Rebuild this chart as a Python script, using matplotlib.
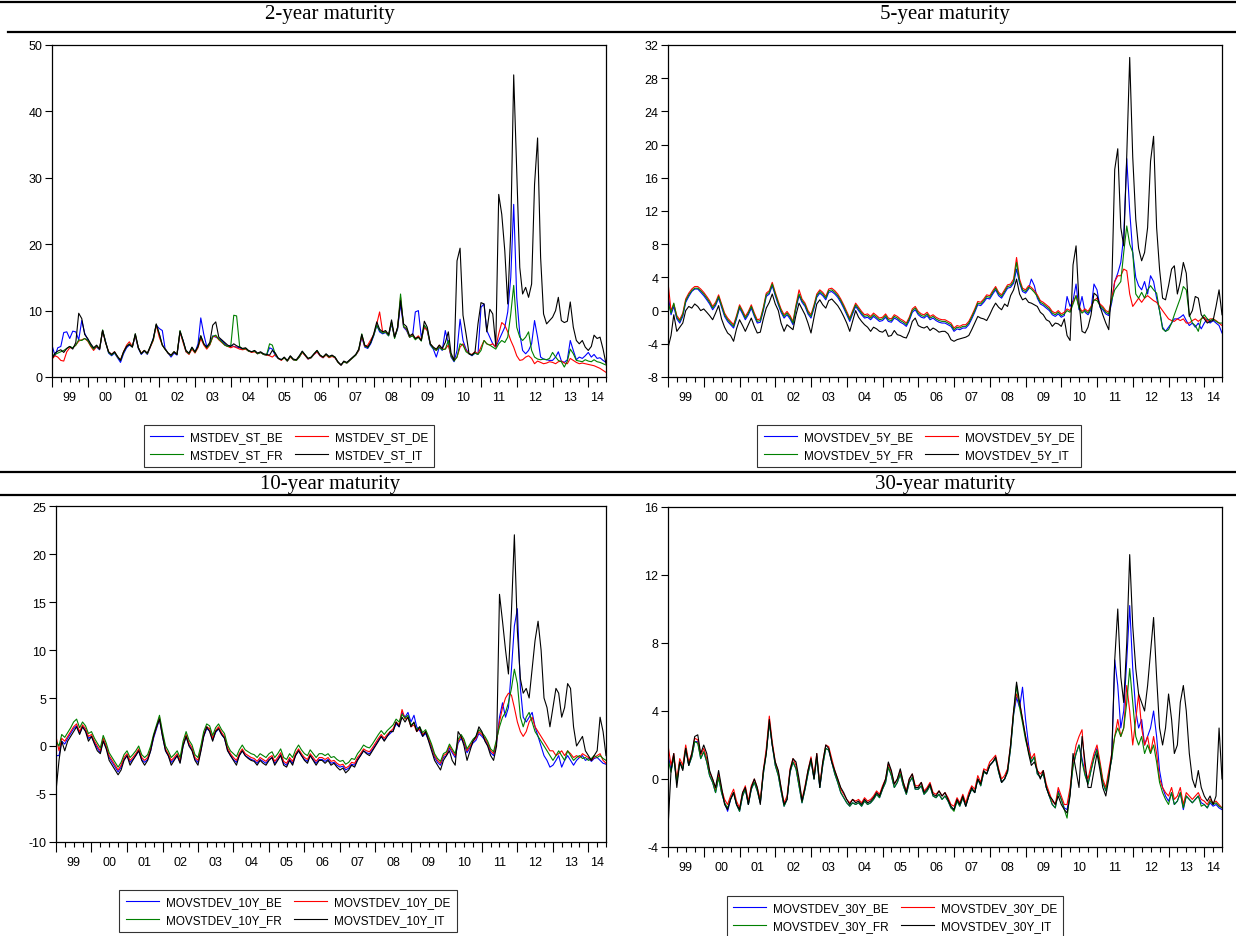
import numpy as np
import pandas as pd
import matplotlib
matplotlib.use("Agg")
import matplotlib.pyplot as plt
from matplotlib.lines import Line2D

plt.rcParams['font.family'] = ['Liberation Sans', 'DejaVu Sans']

start = '1999-01-01'

# ---- 2-year maturity (monthly, Jan 1999 - Jul 2014)
be_2y = [4.8, 3.2, 4.4, 4.6, 6.7, 6.8, 5.8, 6.9, 6.8, 5.6, 8.5, 6.6,
         5.6, 4.8, 4.3, 4.5, 4.1, 7.0, 5.4, 3.6, 3.2, 3.6, 2.9, 2.2,
         3.5, 4.4, 4.8, 4.6, 6.2, 4.3, 3.4, 3.9, 3.4, 4.5, 5.8, 7.8,
         7.3, 7.0, 4.3, 3.6, 3.0, 3.6, 3.3, 6.7, 5.5, 3.8, 3.5, 4.4,
         3.7, 5.0, 8.9, 6.4, 4.6, 5.0, 6.2, 6.0, 5.8, 5.5, 5.0, 4.6,
         4.8, 4.6, 4.5, 4.4, 4.2, 4.3, 3.9, 3.8, 3.9, 3.5, 3.7, 3.4,
         3.3, 4.4, 4.2, 3.2, 2.8, 2.6, 2.9, 2.4, 3.1, 2.6, 2.5, 3.0,
         3.8, 3.2, 2.7, 2.9, 3.4, 3.8, 3.2, 2.9, 3.4, 3.0, 3.2, 2.9,
         2.2, 1.8, 2.3, 2.1, 2.5, 2.9, 3.3, 4.0, 6.0, 4.5, 4.3, 5.0,
         6.2, 7.8, 6.8, 6.5, 6.7, 6.2, 8.0, 6.0, 7.2, 11.0, 7.5, 7.0,
         6.0, 6.2, 9.8, 10.0, 6.0, 7.6, 7.0, 4.8, 4.2, 3.0, 4.5, 4.0,
         7.0, 5.0, 3.0, 2.3, 4.0, 8.7, 5.5, 4.2, 3.5, 3.2, 3.6, 3.4,
         10.5, 11.0, 7.0, 6.0, 5.0, 4.5, 5.5, 6.5, 7.5, 9.8, 15.0, 26.0,
         12.0, 6.5, 4.0, 3.5, 4.0, 5.0, 8.5, 6.0, 3.0, 2.7, 2.6, 2.5,
         2.5, 3.0, 3.8, 2.4, 2.2, 2.6, 5.5, 4.0, 2.6, 3.0, 2.8, 3.2,
         3.7, 3.0, 3.4, 2.8, 2.9, 2.5, 2.2]
de_2y = [2.7, 3.2, 3.0, 2.5, 2.4, 3.8, 4.4, 4.4, 4.8, 5.4, 5.6, 5.8,
         5.4, 4.6, 4.0, 4.6, 4.2, 7.0, 5.2, 3.8, 3.4, 3.8, 3.0, 2.6,
         3.8, 4.8, 5.3, 4.6, 6.3, 4.4, 3.6, 4.0, 3.5, 4.5, 5.5, 7.8,
         6.0, 4.8, 4.2, 3.6, 3.2, 3.8, 3.4, 6.8, 5.2, 3.8, 3.4, 4.2,
         3.6, 4.4, 5.8, 4.8, 4.2, 4.8, 6.0, 6.2, 5.6, 5.2, 4.8, 4.6,
         4.4, 4.6, 4.4, 4.2, 4.1, 4.2, 3.9, 3.7, 3.8, 3.5, 3.7, 3.4,
         3.3, 3.2, 3.0, 3.4, 2.8, 2.5, 2.9, 2.4, 3.0, 2.6, 2.5, 3.0,
         3.7, 3.2, 2.7, 2.9, 3.4, 3.8, 3.2, 2.9, 3.3, 2.9, 3.1, 2.9,
         2.2, 1.8, 2.3, 2.1, 2.5, 2.9, 3.3, 4.0, 6.2, 4.6, 4.8, 5.6,
         6.4, 8.0, 9.8, 6.8, 6.8, 6.3, 8.2, 6.0, 7.4, 12.0, 7.6, 7.2,
         6.0, 6.3, 5.8, 6.2, 5.6, 7.5, 7.0, 5.0, 4.4, 4.0, 4.8, 4.2,
         4.2, 4.8, 3.2, 2.5, 3.0, 4.5, 5.0, 4.0, 3.5, 3.4, 3.8, 3.5,
         4.5, 5.5, 5.0, 4.8, 5.0, 4.5, 6.5, 8.2, 7.8, 6.8, 5.5, 4.5,
         3.2, 2.5, 2.6, 3.0, 3.2, 2.8, 2.0, 2.4, 2.2, 2.0, 2.1, 2.3,
         2.2, 2.0, 2.3, 2.4, 2.1, 2.0, 2.8, 2.5, 2.2, 2.0, 2.1, 2.0,
         1.9, 1.8, 1.7, 1.5, 1.3, 1.0, 0.7]
fr_2y = [3.2, 3.4, 3.6, 3.8, 4.0, 4.3, 4.6, 4.4, 4.8, 5.6, 5.5, 5.8,
         5.5, 4.7, 4.2, 4.7, 4.2, 7.1, 5.3, 3.7, 3.3, 3.7, 3.0, 2.5,
         3.7, 4.6, 5.0, 4.5, 6.5, 4.4, 3.5, 4.0, 3.5, 4.6, 5.6, 7.9,
         6.5, 4.8, 4.2, 3.6, 3.2, 3.8, 3.4, 7.0, 5.4, 3.9, 3.5, 4.4,
         3.7, 4.6, 6.2, 5.0, 4.4, 4.9, 6.1, 6.3, 5.7, 5.3, 4.8, 4.6,
         4.6, 9.3, 9.2, 4.6, 4.2, 4.3, 3.9, 3.8, 3.9, 3.5, 3.7, 3.4,
         3.3, 5.0, 4.8, 3.4, 2.8, 2.6, 2.9, 2.4, 3.1, 2.6, 2.5, 3.0,
         3.8, 3.3, 2.8, 2.9, 3.5, 4.0, 3.3, 3.0, 3.4, 3.0, 3.2, 3.0,
         2.2, 1.8, 2.3, 2.1, 2.5, 2.9, 3.3, 4.1, 6.5, 4.7, 4.4, 5.2,
         6.3, 7.8, 7.0, 6.6, 6.8, 6.2, 8.3, 5.8, 7.4, 12.5, 7.6, 7.3,
         6.0, 6.2, 5.6, 6.0, 5.4, 7.8, 7.2, 4.9, 4.3, 4.0, 4.5, 4.1,
         4.2, 5.5, 3.2, 2.4, 3.0, 5.0, 4.8, 3.8, 3.5, 3.3, 3.6, 3.4,
         4.0, 5.5, 5.0, 4.8, 4.5, 4.2, 5.0, 5.5, 5.2, 6.0, 9.5, 13.8,
         7.5, 6.0, 5.5, 6.0, 6.8, 4.0, 3.0, 2.7, 2.6, 2.7, 2.6, 2.8,
         3.7, 3.0, 2.5, 2.3, 1.5, 2.4, 4.2, 3.5, 2.5, 2.4, 2.3, 2.6,
         2.4, 2.3, 2.6, 2.3, 2.2, 2.0, 1.8]
it_2y = [2.7, 3.6, 3.9, 4.1, 3.7, 4.3, 4.6, 4.2, 5.2, 9.6, 8.8, 6.4,
         5.8, 5.0, 4.4, 4.8, 4.2, 7.0, 5.2, 3.8, 3.4, 3.8, 3.1, 2.5,
         3.8, 4.6, 4.9, 4.5, 6.5, 4.4, 3.5, 4.0, 3.6, 4.6, 5.8, 8.0,
         6.5, 4.8, 4.2, 3.6, 3.3, 3.8, 3.4, 6.9, 5.5, 4.0, 3.6, 4.5,
         3.8, 4.6, 6.2, 5.0, 4.5, 5.2, 7.8, 8.3, 6.0, 5.6, 5.2, 4.8,
         4.6, 5.0, 4.7, 4.5, 4.3, 4.4, 4.0, 3.8, 4.0, 3.6, 3.8, 3.5,
         3.4, 3.3, 4.0, 3.6, 2.8, 2.6, 3.0, 2.5, 3.2, 2.7, 2.6, 3.2,
         3.9, 3.3, 2.8, 3.0, 3.5, 4.0, 3.3, 3.0, 3.5, 3.1, 3.3, 3.0,
         2.3, 1.8, 2.4, 2.2, 2.6, 3.0, 3.4, 4.2, 6.4, 4.8, 4.5, 5.2,
         6.5, 8.3, 7.2, 6.8, 7.0, 6.4, 8.6, 6.0, 7.5, 11.5, 8.0, 7.6,
         6.2, 6.5, 5.8, 6.0, 5.5, 8.4, 7.5, 5.0, 4.5, 4.2, 4.8, 4.3,
         5.2, 6.8, 3.6, 2.5, 17.5, 19.4, 9.3, 6.5, 3.5, 3.3, 3.8, 8.0,
         11.2, 11.0, 6.8, 10.2, 9.5, 4.7, 27.5, 24.5, 19.0, 11.0, 22.0, 45.5,
         31.0, 16.5, 12.5, 13.5, 12.0, 14.0, 29.0, 36.0, 18.0, 9.5, 8.0, 8.5,
         9.0, 10.0, 12.0, 8.5, 8.2, 8.4, 11.3, 7.5, 5.5, 5.0, 5.5, 4.5,
         4.0, 4.6, 6.3, 5.8, 6.0, 4.2, 2.0]

# ---- 5-year maturity
be_5y = [2.0, -0.5, 0.5, -1.0, -1.5, -0.7, 1.0, 1.7, 2.3, 2.6, 2.6, 2.2,
         1.8, 1.3, 0.8, 0.1, 0.6, 1.5, 0.4, -0.7, -1.3, -1.7, -2.1, -1.0,
         0.3, -0.4, -1.1, -0.5, 0.3, -0.7, -1.5, -1.4, 0.0, 1.7, 2.0, 3.0,
         1.8, 0.7, -0.2, -0.9, -0.5, -1.0, -1.7, 0.3, 1.8, 1.0, 0.5, -0.4,
         -0.9, 0.3, 1.6, 2.1, 1.8, 1.3, 2.2, 2.3, 2.0, 1.6, 1.0, 0.3,
         -0.5, -1.3, -0.4, 0.5, 0.0, -0.5, -0.9, -0.8, -1.1, -0.7, -1.0, -1.3,
         -1.2, -0.8, -1.3, -1.4, -0.9, -1.1, -1.4, -1.6, -1.9, -1.2, -0.2, 0.1,
         -0.5, -0.8, -0.9, -0.6, -1.1, -0.9, -1.2, -1.4, -1.5, -1.5, -1.7, -1.9,
         -2.5, -2.2, -2.3, -2.1, -2.1, -1.7, -1.0, -0.2, 0.7, 0.6, 1.0, 1.5,
         1.4, 2.0, 2.5, 1.8, 1.5, 2.1, 2.7, 2.8, 3.3, 5.0, 3.3, 2.3,
         2.1, 2.6, 3.8, 3.0, 1.5, 0.8, 0.6, 0.3, 0.0, -0.5, -0.7, -0.4,
         -0.8, -0.6, 1.7, 0.5, 1.2, 3.2, 0.1, 1.7, -0.2, -0.5, 0.1, 3.2,
         2.5, 0.4, 0.1, -0.4, -0.6, 1.0, 3.5, 4.5, 5.8, 9.0, 18.3, 12.0,
         7.0, 4.0, 3.0, 2.5, 3.5, 2.0, 4.2, 3.5, 1.5, 0.0, -2.0, -2.5,
         -2.0, -1.5, -1.0, -1.0, -0.8, -0.5, -1.2, -1.8, -1.5, -2.0, -1.5, -2.2,
         -1.5, -1.0, -1.5, -1.2, -1.5, -1.8, -2.7]
de_5y = [3.4, 0.0, 0.8, -0.6, -1.1, -0.3, 1.4, 2.1, 2.6, 2.9, 2.9, 2.6,
         2.2, 1.7, 1.2, 0.5, 1.0, 1.9, 0.8, -0.3, -0.9, -1.3, -1.7, -0.6,
         0.7, 0.0, -0.7, -0.1, 0.7, -0.3, -1.1, -1.0, 0.4, 2.1, 2.4, 3.4,
         2.2, 1.1, 0.2, -0.5, -0.1, -0.6, -1.3, 0.7, 2.5, 1.4, 0.9, 0.0,
         -0.5, 0.7, 2.0, 2.5, 2.2, 1.7, 2.6, 2.7, 2.4, 2.0, 1.4, 0.7,
         -0.1, -0.9, 0.0, 0.9, 0.4, -0.1, -0.5, -0.4, -0.7, -0.3, -0.6, -0.9,
         -0.8, -0.4, -0.9, -1.0, -0.5, -0.7, -1.0, -1.2, -1.5, -0.8, 0.2, 0.5,
         -0.1, -0.4, -0.5, -0.2, -0.7, -0.5, -0.8, -1.0, -1.1, -1.1, -1.3, -1.5,
         -2.1, -1.8, -1.9, -1.7, -1.7, -1.3, -0.6, 0.2, 1.1, 1.0, 1.4, 1.9,
         1.8, 2.4, 2.9, 2.2, 1.9, 2.5, 3.1, 3.2, 3.8, 6.4, 3.8, 2.7,
         2.5, 3.0, 2.8, 2.4, 1.9, 1.2, 1.0, 0.7, 0.4, -0.1, -0.3, 0.0,
         -0.4, -0.2, 0.2, 0.0, 1.0, 1.8, 0.5, -0.1, 0.2, -0.1, 0.5, 1.2,
         1.5, 0.8, 0.5, 0.0, -0.2, 1.5, 3.5, 4.2, 4.2, 5.0, 4.8, 2.0,
         0.5, 1.0, 1.5, 1.0, 1.5, 1.8, 1.5, 1.2, 1.0, 0.5, 0.0, -0.5,
         -1.0, -1.2, -1.3, -1.0, -1.2, -1.0, -1.5, -1.5, -1.2, -1.0, -1.3, -1.0,
         -0.8, -1.3, -1.0, -1.0, -1.2, -1.5, -1.8]
fr_5y = [1.0, -0.3, 0.9, -0.8, -1.3, -0.5, 1.2, 1.9, 2.4, 2.7, 2.7, 2.4,
         2.0, 1.5, 1.0, 0.3, 0.8, 1.7, 0.6, -0.5, -1.1, -1.5, -1.9, -0.8,
         0.5, -0.2, -0.9, -0.3, 0.5, -0.5, -1.3, -1.2, 0.2, 1.9, 2.2, 3.2,
         2.0, 0.9, 0.0, -0.7, -0.3, -0.8, -1.5, 0.5, 2.0, 1.2, 0.7, -0.2,
         -0.7, 0.5, 1.8, 2.3, 2.0, 1.5, 2.4, 2.5, 2.2, 1.8, 1.2, 0.5,
         -0.3, -1.1, -0.2, 0.7, 0.2, -0.3, -0.7, -0.6, -0.9, -0.5, -0.8, -1.1,
         -1.0, -0.6, -1.1, -1.2, -0.7, -0.9, -1.2, -1.4, -1.7, -1.0, 0.0, 0.3,
         -0.3, -0.6, -0.7, -0.4, -0.9, -0.7, -1.0, -1.2, -1.3, -1.3, -1.5, -1.7,
         -2.3, -2.0, -2.1, -1.9, -1.9, -1.5, -0.8, 0.0, 0.9, 0.8, 1.2, 1.7,
         1.6, 2.2, 2.7, 2.0, 1.7, 2.3, 2.9, 3.0, 3.5, 5.8, 3.5, 2.5,
         2.3, 2.8, 2.6, 2.2, 1.7, 1.0, 0.8, 0.5, 0.2, -0.3, -0.5, -0.2,
         -0.6, -0.4, 0.0, -0.2, 0.8, 1.8, 0.3, -0.3, 0.0, -0.3, 0.3, 1.3,
         1.2, 0.6, 0.3, -0.2, -0.4, 1.3, 2.5, 3.0, 3.5, 7.0, 10.2, 8.0,
         7.0, 2.0, 1.5, 2.2, 1.5, 2.5, 3.0, 2.5, 2.1, 0.0, -2.2, -2.5,
         -2.3, -1.5, -0.5, 0.5, 1.5, 2.9, 2.5, -0.5, -1.5, -1.8, -2.5, -1.0,
         -0.5, -1.0, -1.2, -1.0, -1.3, -1.5, -1.5]
it_5y = [-4.5, -3.0, -0.5, -2.5, -2.0, -1.5, 0.0, 0.5, 0.3, 0.8, 0.5, 0.0,
         0.2, -0.2, -0.6, -1.1, -0.3, 0.6, -1.0, -2.0, -2.7, -3.0, -3.7, -2.2,
         -1.1, -1.8, -2.5, -1.7, -0.9, -1.9, -2.7, -2.6, -1.0, 0.3, 1.0, 2.0,
         0.8, 0.0, -1.5, -2.5, -1.7, -2.0, -2.3, -0.5, 0.9, 0.2, -0.5, -1.5,
         -2.7, -0.8, 0.8, 1.3, 0.7, 0.3, 1.2, 1.4, 1.0, 0.6, 0.0, -0.7,
         -1.5, -2.5, -1.3, 0.0, -0.8, -1.3, -1.7, -2.0, -2.5, -2.0, -2.2, -2.5,
         -2.6, -2.3, -3.1, -3.0, -2.4, -2.9, -3.0, -3.2, -3.3, -2.5, -1.3, -0.9,
         -1.8, -2.0, -2.1, -1.9, -2.4, -2.1, -2.3, -2.6, -2.5, -2.5, -2.8, -3.5,
         -3.7, -3.5, -3.4, -3.3, -3.2, -3.0, -2.3, -1.5, -0.7, -0.9, -1.0, -1.2,
         -0.5, 0.3, 0.9, 0.4, 0.1, 0.8, 0.5, 1.8, 2.5, 3.8, 2.0, 1.3,
         1.5, 1.0, 0.9, 0.7, 0.5, -0.2, -0.5, -1.1, -1.3, -1.9, -1.5, -1.6,
         -1.9, -1.0, -3.0, -3.6, 5.5, 7.8, 1.0, -2.5, -2.7, -2.0, -0.5, 2.1,
         1.8, 0.5, -0.5, -1.5, -2.3, 3.0, 17.0, 19.5, 10.0, 7.8, 18.7, 30.5,
         18.5, 11.0, 7.5, 6.0, 7.0, 10.0, 18.0, 21.0, 10.0, 5.0, 1.5, 1.3,
         3.0, 5.0, 5.4, 2.0, 3.5, 5.8, 4.5, -0.7, 0.0, 1.7, 1.5, -0.5,
         -1.0, -1.5, -1.3, -1.2, 0.5, 2.5, -0.5]

# ---- 10-year maturity
be_10y = [-1.0, -1.0, 0.5, 0.2, 0.8, 1.3, 1.8, 2.1, 1.3, 2.0, 1.6, 0.8,
          1.0, 0.3, -0.2, -0.7, 0.6, -0.2, -1.2, -1.7, -2.2, -2.7, -2.2, -1.4,
          -1.0, -1.7, -1.4, -1.0, -0.5, -1.4, -1.7, -1.4, -0.5, 0.8, 1.8, 2.8,
          1.0, -0.5, -1.0, -1.7, -1.4, -1.0, -1.7, 0.0, 1.0, 0.1, -0.4, -1.4,
          -1.7, -0.4, 1.0, 1.8, 1.6, 0.6, 1.4, 1.8, 1.2, 0.8, -0.4, -1.0,
          -1.4, -1.7, -1.0, -0.5, -1.0, -1.2, -1.4, -1.5, -1.8, -1.4, -1.6, -1.8,
          -1.4, -1.2, -1.8, -1.4, -0.9, -1.8, -2.0, -1.4, -1.8, -1.0, -0.5, -1.0,
          -1.4, -1.6, -1.0, -1.4, -1.8, -1.4, -1.4, -1.6, -1.4, -1.8, -1.7, -2.0,
          -2.2, -2.1, -2.5, -2.3, -1.9, -2.0, -1.4, -1.0, -0.5, -0.7, -0.8, -0.4,
          0.1, 0.6, 1.0, 0.6, 1.0, 1.3, 1.6, 2.3, 2.0, 3.5, 3.0, 3.5,
          2.5, 3.2, 2.0, 1.6, 1.0, 1.3, 0.6, -0.2, -1.2, -1.7, -2.0, -1.2,
          -1.0, -0.2, -0.7, -1.2, 0.3, 0.8, 0.3, -0.7, -0.2, 0.3, 0.6, 1.3,
          1.0, 0.6, 0.1, -0.7, -1.0, 0.3, 3.0, 4.5, 3.0, 4.0, 8.0, 12.5,
          14.3, 6.0, 3.0, 2.5, 3.0, 3.5, 2.0, 1.0, 0.0, -1.0, -1.5, -2.2,
          -2.0, -1.5, -1.0, -2.2, -1.5, -1.0, -1.5, -2.0, -1.5, -1.2, -1.0, -1.5,
          -1.3, -1.6, -1.3, -1.2, -1.5, -1.8, -1.9]
de_10y = [1.0, -0.5, 0.8, 0.5, 1.0, 1.5, 2.0, 2.3, 1.5, 2.2, 1.8, 1.0,
          1.2, 0.5, 0.0, -0.5, 0.8, 0.0, -1.0, -1.5, -2.0, -2.5, -2.0, -1.2,
          -0.8, -1.5, -1.2, -0.8, -0.3, -1.2, -1.5, -1.2, -0.3, 1.0, 2.0, 3.0,
          1.2, -0.3, -0.8, -1.5, -1.2, -0.8, -1.5, 0.2, 1.2, 0.3, -0.2, -1.2,
          -1.5, -0.2, 1.2, 2.0, 1.8, 0.8, 1.6, 2.0, 1.4, 1.0, -0.2, -0.8,
          -1.2, -1.5, -0.8, -0.3, -0.8, -1.0, -1.2, -1.3, -1.6, -1.2, -1.4, -1.6,
          -1.2, -1.0, -1.6, -1.2, -0.7, -1.6, -1.8, -1.2, -1.6, -0.8, -0.3, -0.8,
          -1.2, -1.4, -0.8, -1.2, -1.6, -1.2, -1.2, -1.4, -1.2, -1.6, -1.5, -1.8,
          -2.0, -1.9, -2.3, -2.1, -1.7, -1.8, -1.2, -0.8, -0.3, -0.5, -0.6, -0.2,
          0.3, 0.8, 1.2, 0.8, 1.2, 1.5, 1.8, 2.5, 2.2, 3.8, 2.8, 3.0,
          2.0, 2.2, 1.5, 1.8, 1.2, 1.5, 0.8, 0.0, -1.0, -1.5, -1.8, -1.0,
          -0.8, 0.0, -0.5, -1.0, 0.5, 1.0, 0.5, -0.5, 0.0, 0.5, 0.8, 1.5,
          1.2, 0.8, 0.3, -0.5, -0.8, 0.5, 2.5, 4.0, 5.0, 5.5, 5.3, 4.0,
          2.5, 1.5, 1.0, 1.5, 2.5, 3.0, 2.0, 1.5, 1.0, 0.5, 0.0, -0.5,
          -0.5, -1.0, -0.8, -0.5, -1.0, -0.5, -0.8, -1.2, -1.0, -1.2, -0.8, -1.0,
          -1.2, -1.5, -1.2, -1.0, -0.8, -1.5, -1.8]
fr_10y = [0.5, 0.0, 1.2, 0.9, 1.4, 1.9, 2.5, 2.8, 1.9, 2.5, 2.1, 1.3,
          1.5, 0.8, 0.3, -0.2, 1.1, 0.3, -0.7, -1.2, -1.7, -2.2, -1.7, -0.9,
          -0.5, -1.2, -0.9, -0.5, 0.0, -0.9, -1.2, -0.9, 0.0, 1.2, 2.2, 3.2,
          1.5, 0.0, -0.5, -1.2, -0.9, -0.5, -1.2, 0.5, 1.5, 0.6, 0.1, -0.9,
          -1.2, 0.1, 1.5, 2.3, 2.1, 1.1, 1.9, 2.3, 1.7, 1.3, 0.1, -0.5,
          -0.8, -1.1, -0.4, 0.1, -0.4, -0.6, -0.8, -0.9, -1.2, -0.8, -1.0, -1.2,
          -0.8, -0.6, -1.2, -0.8, -0.3, -1.2, -1.4, -0.8, -1.2, -0.4, 0.1, -0.4,
          -0.8, -1.0, -0.4, -0.8, -1.2, -0.8, -0.8, -1.0, -0.8, -1.2, -1.1, -1.4,
          -1.6, -1.5, -1.9, -1.7, -1.3, -1.4, -0.8, -0.4, 0.1, -0.1, -0.2, 0.2,
          0.7, 1.2, 1.6, 1.2, 1.6, 1.9, 2.2, 2.8, 2.5, 3.3, 2.9, 3.2,
          2.2, 2.4, 1.7, 2.0, 1.4, 1.7, 1.0, 0.2, -0.8, -1.3, -1.6, -0.8,
          -0.6, 0.2, -0.3, -0.8, 0.7, 1.2, 0.7, -0.3, 0.2, 0.7, 1.0, 1.7,
          1.4, 1.0, 0.5, -0.3, -0.6, 0.7, 2.0, 3.0, 3.5, 4.5, 6.0, 8.0,
          6.5, 3.0, 2.0, 3.0, 3.5, 2.5, 1.5, 1.0, 0.5, 0.0, -0.5, -1.0,
          -1.5, -1.0, -0.5, -1.0, -1.5, -0.5, -1.0, -1.5, -1.2, -1.0, -1.3, -1.2,
          -1.5, -1.3, -1.0, -1.2, -1.0, -1.3, -1.5]
it_10y = [-4.7, -1.5, 0.5, -0.5, 0.5, 1.0, 1.5, 2.0, 1.2, 2.0, 1.5, 0.5,
          1.0, 0.2, -0.5, -0.8, 0.5, -0.3, -1.5, -2.0, -2.5, -3.0, -2.5, -1.5,
          -1.0, -2.0, -1.5, -1.0, -0.5, -1.5, -2.0, -1.5, -0.5, 1.0, 2.0, 2.8,
          1.0, -0.5, -1.0, -2.0, -1.5, -1.0, -1.8, 0.0, 1.0, 0.0, -0.5, -1.5,
          -2.0, -0.5, 1.0, 2.0, 1.5, 0.5, 1.5, 1.8, 1.2, 0.8, -0.5, -1.0,
          -1.5, -2.0, -1.0, -0.5, -1.0, -1.3, -1.5, -1.6, -2.0, -1.5, -1.8, -2.0,
          -1.5, -1.2, -2.0, -1.5, -1.0, -2.0, -2.2, -1.5, -2.0, -1.0, -0.5, -1.0,
          -1.5, -1.8, -1.0, -1.5, -2.0, -1.5, -1.5, -1.8, -1.5, -2.0, -1.8, -2.2,
          -2.5, -2.3, -2.8, -2.5, -2.0, -2.2, -1.5, -1.0, -0.5, -0.8, -1.0, -0.5,
          0.0, 0.5, 1.0, 0.5, 1.0, 1.5, 1.5, 2.5, 2.0, 3.0, 2.5, 3.0,
          2.0, 2.5, 1.5, 2.0, 1.0, 1.5, 0.5, -0.5, -1.5, -2.0, -2.5, -1.5,
          -1.0, -0.5, -1.5, -2.0, 1.5, 1.0, 0.0, -1.5, -0.5, 0.5, 1.0, 2.0,
          1.5, 0.5, 0.0, -1.0, -1.5, 0.0, 15.8, 13.0, 10.0, 7.5, 14.0, 22.0,
          12.0, 7.0, 5.5, 6.0, 5.0, 8.0, 11.0, 13.0, 10.0, 5.0, 4.0, 2.0,
          4.0, 6.0, 5.5, 3.0, 4.0, 6.5, 6.0, 2.0, 0.0, 0.5, 1.0, -0.5,
          -1.0, -1.5, -1.0, -0.5, 3.0, 1.5, -1.0]

# ---- 30-year maturity
be_30y = [1.5, 0.5, 1.3, -0.2, 1.0, 0.6, 1.8, 0.8, 1.3, 2.2, 2.2, 1.2,
          1.6, 1.0, 0.2, -0.2, -0.8, 0.1, -0.8, -1.4, -1.9, -1.2, -0.8, -1.5,
          -1.9, -1.0, -0.6, -1.5, -0.6, -0.2, -0.7, -1.4, 0.3, 1.6, 3.3, 2.0,
          0.8, 0.2, -0.7, -1.6, -1.2, 0.4, 1.0, 0.6, -0.4, -1.4, -0.6, 0.3,
          1.1, 0.0, 1.3, -0.5, 0.8, 1.8, 1.7, 1.0, 0.3, -0.2, -0.8, -1.1,
          -1.4, -1.6, -1.4, -1.5, -1.4, -1.6, -1.3, -1.5, -1.4, -1.2, -0.9, -1.1,
          -0.6, -0.2, 0.7, 0.2, -0.5, -0.2, 0.3, -0.4, -0.9, -0.2, 0.1, -0.6,
          -0.6, -0.4, -0.9, -0.7, -0.4, -1.0, -1.1, -0.9, -1.2, -1.0, -1.3, -1.7,
          -1.8, -1.3, -1.6, -1.1, -1.6, -1.0, -0.6, -0.8, 0.0, -0.4, 0.4, 0.3,
          0.8, 1.0, 1.2, 0.4, -0.2, 0.0, 0.4, 1.8, 3.8, 4.8, 4.2, 5.4,
          3.5, 2.0, 1.0, 1.3, 0.3, 0.1, 0.3, -0.5, -1.0, -1.5, -1.7, -0.7,
          -1.2, -1.7, -1.8, -0.8, 0.8, 1.5, 2.0, 1.2, 0.3, -0.3, 0.5, 1.3,
          1.8, 0.8, -0.2, -0.7, 0.3, 1.2, 7.0, 5.5, 3.0, 4.0, 7.0, 10.2,
          6.5, 4.0, 3.0, 3.5, 2.0, 2.5, 3.0, 4.0, 2.5, 0.5, -0.5, -1.0,
          -1.3, -0.8, -1.5, -1.3, -0.8, -1.8, -1.0, -1.2, -1.4, -1.2, -1.0, -1.4,
          -1.5, -1.7, -1.4, -1.6, -1.5, -1.7, -1.8]
de_30y = [2.0, 0.8, 1.5, 0.0, 1.2, 0.8, 2.0, 1.0, 1.5, 2.4, 2.3, 1.4,
          1.8, 1.2, 0.4, 0.0, -0.6, 0.3, -0.6, -1.2, -1.5, -1.0, -0.6, -1.3,
          -1.7, -0.8, -0.4, -1.3, -0.4, 0.0, -0.5, -1.2, 0.5, 1.8, 3.7, 2.2,
          1.0, 0.4, -0.5, -1.4, -1.0, 0.6, 1.2, 0.8, -0.2, -1.2, -0.4, 0.5,
          1.3, 0.2, 1.5, -0.3, 1.0, 2.0, 1.9, 1.2, 0.5, 0.0, -0.6, -0.9,
          -1.2, -1.4, -1.2, -1.3, -1.2, -1.4, -1.1, -1.3, -1.2, -1.0, -0.7, -0.9,
          -0.4, 0.0, 0.9, 0.4, -0.3, 0.0, 0.5, -0.2, -0.7, 0.0, 0.3, -0.4,
          -0.4, -0.2, -0.7, -0.5, -0.2, -0.8, -0.9, -0.7, -1.0, -0.8, -1.1, -1.5,
          -1.6, -1.1, -1.4, -0.9, -1.4, -0.8, -0.4, -0.6, 0.2, -0.2, 0.6, 0.5,
          1.0, 1.2, 1.4, 0.6, 0.0, 0.2, 0.6, 2.0, 4.0, 5.0, 4.5, 3.5,
          2.5, 1.8, 1.2, 1.5, 0.5, 0.3, 0.5, -0.3, -0.8, -1.3, -1.5, -0.5,
          -1.0, -1.5, -1.5, -0.5, 1.0, 2.0, 2.5, 2.9, 0.5, 0.0, 0.8, 1.5,
          2.0, 1.0, 0.0, -0.5, 0.5, 1.5, 2.5, 3.5, 2.5, 3.0, 5.5, 4.0,
          2.0, 3.5, 5.0, 3.0, 2.0, 2.5, 1.5, 2.5, 1.5, 0.0, -0.5, -0.8,
          -1.0, -0.5, -1.2, -1.0, -0.5, -1.5, -0.8, -1.0, -1.2, -1.0, -0.8, -1.2,
          -1.3, -1.5, -1.2, -1.4, -1.3, -1.5, -1.7]
fr_30y = [1.2, 0.4, 1.3, -0.2, 1.0, 0.6, 1.8, 0.8, 1.3, 2.2, 2.1, 1.2,
          1.6, 1.0, 0.2, -0.2, -0.8, 0.1, -0.8, -1.4, -1.7, -1.2, -0.8, -1.5,
          -1.9, -1.0, -0.6, -1.5, -0.6, -0.2, -0.7, -1.4, 0.3, 1.5, 3.3, 2.0,
          0.8, 0.2, -0.7, -1.6, -1.2, 0.4, 1.0, 0.6, -0.4, -1.4, -0.6, 0.3,
          1.1, 0.0, 1.3, -0.5, 0.8, 1.8, 1.7, 1.0, 0.3, -0.2, -0.8, -1.1,
          -1.4, -1.6, -1.4, -1.5, -1.4, -1.6, -1.3, -1.5, -1.4, -1.2, -0.9, -1.1,
          -0.6, -0.2, 0.7, 0.2, -0.5, -0.2, 0.3, -0.4, -0.9, -0.2, 0.1, -0.6,
          -0.6, -0.4, -0.9, -0.7, -0.4, -1.0, -1.1, -0.9, -1.2, -1.0, -1.3, -1.7,
          -1.9, -1.3, -1.6, -1.1, -1.6, -1.0, -0.6, -0.8, 0.0, -0.4, 0.4, 0.3,
          0.8, 1.0, 1.2, 0.4, -0.2, 0.0, 0.4, 1.8, 3.8, 5.5, 4.2, 3.3,
          2.3, 1.6, 1.0, 1.3, 0.3, 0.1, 0.3, -0.5, -1.0, -1.5, -1.7, -0.8,
          -1.2, -1.8, -2.3, -0.8, 0.7, 1.5, 2.0, 1.0, 0.2, -0.3, 0.5, 1.2,
          1.7, 0.8, -0.2, -0.7, 0.2, 1.2, 2.5, 3.0, 2.5, 3.0, 4.5, 6.5,
          4.5, 2.5, 2.0, 2.5, 1.5, 2.0, 1.5, 2.0, 1.0, -0.2, -0.8, -1.2,
          -1.5, -0.8, -1.5, -1.3, -0.8, -1.7, -1.0, -1.2, -1.4, -1.2, -1.0, -1.6,
          -1.5, -1.7, -1.3, -1.5, -1.4, -1.6, -1.7]
it_30y = [-2.9, 0.5, 1.5, -0.5, 1.0, 0.5, 1.8, 0.8, 1.5, 2.5, 2.6, 1.5,
          2.0, 1.5, 0.5, 0.0, -0.5, 0.5, -0.5, -1.5, -1.8, -1.2, -0.8, -1.5,
          -1.8, -0.8, -0.5, -1.5, -0.5, 0.0, -0.5, -1.5, 0.5, 1.5, 3.5, 2.0,
          1.0, 0.5, -0.5, -1.5, -1.2, 0.5, 1.2, 1.0, 0.0, -1.3, -0.5, 0.5,
          1.2, 0.0, 1.5, -0.5, 1.0, 2.0, 1.8, 1.0, 0.5, 0.0, -0.5, -0.8,
          -1.2, -1.5, -1.2, -1.4, -1.3, -1.5, -1.2, -1.4, -1.3, -1.1, -0.8, -1.0,
          -0.5, 0.0, 1.0, 0.5, -0.3, 0.0, 0.6, -0.2, -0.8, 0.0, 0.3, -0.5,
          -0.5, -0.2, -0.8, -0.6, -0.3, -0.9, -1.0, -0.7, -1.0, -0.8, -1.2, -1.6,
          -1.8, -1.2, -1.5, -1.0, -1.6, -1.0, -0.5, -0.8, 0.0, -0.3, 0.5, 0.3,
          0.8, 1.0, 1.3, 0.5, -0.2, 0.0, 0.5, 2.0, 4.0, 5.7, 4.5, 3.5,
          2.5, 1.5, 0.8, 1.0, 0.5, 0.0, 0.5, -0.5, -1.0, -1.2, -1.5, -1.0,
          -1.5, -1.8, -2.0, -1.0, 1.5, 0.5, -0.5, 2.5, 1.0, -0.5, -0.5, 0.5,
          1.5, 0.5, -0.5, -1.0, 0.0, 1.5, 7.0, 10.0, 6.0, 4.5, 8.0, 13.2,
          9.0, 6.5, 5.0, 4.5, 4.0, 5.5, 7.5, 9.5, 6.0, 3.0, 2.0, 3.0,
          5.0, 3.5, 1.5, 2.0, 4.5, 5.5, 4.0, 1.5, 0.0, -0.5, 0.5, -0.5,
          -1.0, -1.3, -1.0, -1.5, -1.0, 3.0, 0.0]

countries = ['BE', 'DE', 'FR', 'IT']
colors = ['#0000ff', '#ff0000', '#008000', '#000000']
year_labels = ['99', '00', '01', '02', '03', '04', '05', '06', '07',
               '08', '09', '10', '11', '12', '13', '14']

panels = [
    ('2-year maturity', 'MSTDEV_ST_', [be_2y, de_2y, fr_2y, it_2y],
     [0, 10, 20, 30, 40, 50]),
    ('5-year maturity', 'MOVSTDEV_5Y_', [be_5y, de_5y, fr_5y, it_5y],
     [-8, -4, 0, 4, 8, 12, 16, 20, 24, 28, 32]),
    ('10-year maturity', 'MOVSTDEV_10Y_', [be_10y, de_10y, fr_10y, it_10y],
     [-10, -5, 0, 5, 10, 15, 20, 25]),
    ('30-year maturity', 'MOVSTDEV_30Y_', [be_30y, de_30y, fr_30y, it_30y],
     [-4, 0, 4, 8, 12, 16]),
]

W, H = 1236, 937
fig = plt.figure(figsize=(W / 100, H / 100), dpi=100)

# axes boxes in pixels: left, top, right, bottom
boxes = [(52, 46, 606, 378), (668, 46, 1222, 378),
         (56, 507, 606, 843), (668, 508, 1222, 848)]
title_pos = [(330, 14), (945, 14), (330, 485), (945, 485)]
legend_pos = [(289, 447), (919, 447), (288, 912), (895, 918)]

years = pd.date_range('1999-01-01', '2014-01-01', freq='YS')
quarters = pd.date_range('1999-01-01', '2014-07-01', freq='QS')
end = pd.Timestamp('2014-07-01')

for i, (title, prefix, series, yt) in enumerate(panels):
    l, t, r, b = boxes[i]
    ax = fig.add_axes([l / W, 1 - b / H, (r - l) / W, (b - t) / H])
    lines = []
    for vals, c, cc in zip(series, countries, colors):
        d = pd.date_range(start, periods=len(vals), freq='MS')
        ln, = ax.plot(d, vals, color=cc, lw=0.8, label=prefix + c)
        lines.append(ln)
    ax.set_xlim(pd.Timestamp(start), end)
    ax.set_ylim(yt[0], yt[-1])
    ax.set_yticks(yt)
    ax.set_yticklabels([str(v) for v in yt])
    ax.set_xticks(years)
    ax.set_xticks([q for q in quarters if q.month != 1], minor=True)
    ax.set_xticklabels([])
    ax.tick_params(axis='y', direction='out', length=5, width=0.8,
                   labelsize=9, pad=2, right=False)
    ax.tick_params(axis='x', which='major', direction='out', length=7,
                   width=0.8, top=False)
    ax.tick_params(axis='x', which='minor', direction='out', length=3.5,
                   width=0.8, top=False)
    for s in ax.spines.values():
        s.set_linewidth(0.9)
    # year labels centred between major ticks
    for k, lab in enumerate(year_labels):
        y0 = years[k]
        y1 = years[k + 1] if k + 1 < len(years) else end
        mid = y0 + (y1 - y0) / 2
        ax.annotate(lab, xy=(mid, 0), xycoords=('data', 'axes fraction'),
                    xytext=(0, -14.5), textcoords='offset points',
                    ha='center', va='center', fontsize=9)
    tx, ty = title_pos[i]
    fig.text(tx / W, 1 - ty / H, title, family='Liberation Serif',
             fontsize=15, ha='center', va='center')
    lx, ly = legend_pos[i]
    # order so that rows read BE, DE / FR, IT
    order = [0, 2, 1, 3]
    leg = ax.legend([lines[j] for j in order],
                    [lines[j].get_label() for j in order],
                    loc='center', bbox_to_anchor=(lx / W, 1 - ly / H),
                    bbox_transform=fig.transFigure, ncol=2, fontsize=8.5,
                    frameon=True, fancybox=False, edgecolor='black',
                    handlelength=2.8, handletextpad=0.6, columnspacing=1.0,
                    labelspacing=0.45, borderpad=0.55, borderaxespad=0)
    leg.get_frame().set_linewidth(0.8)

# horizontal rules of the table layout
for (x0, x1, y) in [(0, W, 3), (8, W, 33), (0, W, 473), (0, W, 496)]:
    fig.add_artist(Line2D([x0 / W, x1 / W], [1 - y / H, 1 - y / H],
                          transform=fig.transFigure, color='black', lw=1.6))

fig.savefig('out.png', dpi=100)
